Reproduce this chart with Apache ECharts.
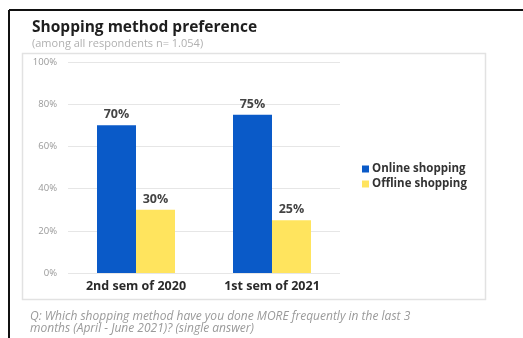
<!DOCTYPE html>
<html>
<head>
<meta charset="utf-8">
<script src="https://cdn.jsdelivr.net/npm/echarts@6/dist/echarts.min.js"></script>
<style>
  html, body {margin: 0; padding: 0; background: #fff;}
  #chart {width: 523px; height: 338px;}
</style>
</head>
<body>
<div id="chart"></div>
<script>
const categories = ['2nd sem of 2020', '1st sem of 2021'];
const online = [70, 75];
const offline = [30, 25];
const yTicks = [0, 20, 40, 60, 80, 100];

const chart = echarts.init(document.getElementById('chart'));
const font = '"Open Sans", "Noto Sans", sans-serif';

chart.setOption({
  animation: false,
  textStyle: {fontFamily: font},
  title: {
    text: 'Shopping method preference',
    subtext: '(among all respondents n= 1.054)',
    left: 27,
    top: 15,
    itemGap: 2,
    textStyle: {fontSize: 15.5, fontWeight: 'bold', color: '#1e1e1e', fontFamily: font},
    subtextStyle: {fontSize: 11, color: '#b0b0b0', fontFamily: font}
  },
  legend: {
    orient: 'vertical',
    left: 357,
    top: 158,
    itemWidth: 7,
    itemHeight: 7,
    itemGap: 3,
    icon: 'rect',
    textStyle: {fontSize: 11.5, fontWeight: 'bold', color: '#333', fontFamily: font, padding: [0, 0, 0, -2]},
    data: ['Online shopping', 'Offline shopping']
  },
  grid: {left: 68, right: 183, top: 62, bottom: 65},
  xAxis: {
    type: 'category',
    data: categories,
    axisLine: {show: false},
    axisTick: {show: false},
    axisLabel: {fontSize: 12.5, fontWeight: 'bold', color: '#2a2a2a', margin: 7, fontFamily: font}
  },
  yAxis: {
    type: 'value',
    min: yTicks[0],
    max: yTicks[yTicks.length - 1],
    interval: 20,
    axisLine: {show: false},
    axisTick: {show: false},
    axisLabel: {fontSize: 9.5, color: '#999', margin: 11, formatter: '{value}%'},
    splitLine: {lineStyle: {color: '#e6e6e6', width: 1}}
  },
  series: [
    {
      name: 'Online shopping',
      type: 'bar',
      data: online,
      barWidth: 39,
      barGap: '0%',
      itemStyle: {color: '#0a5ac8'},
      label: {show: true, position: 'top', distance: 4, formatter: '{c}%', fontSize: 12.5, fontWeight: 'bold', color: '#444'}
    },
    {
      name: 'Offline shopping',
      type: 'bar',
      data: offline,
      barWidth: 39,
      itemStyle: {color: '#ffe45e'},
      label: {show: true, position: 'top', distance: 4, formatter: '{c}%', fontSize: 12.5, fontWeight: 'bold', color: '#444'}
    }
  ],
  graphic: [
    {type: 'line', shape: {x1: 9, y1: 10, x2: 523, y2: 10}, style: {stroke: '#111', lineWidth: 2}},
    {type: 'line', shape: {x1: 9, y1: 10, x2: 9, y2: 338}, style: {stroke: '#111', lineWidth: 2}},
    {type: 'rect', shape: {x: 22.5, y: 53.5, width: 463, height: 246}, style: {fill: 'none', stroke: '#e2e2e2', lineWidth: 1.5}, z: -1},
    {
      type: 'text', left: 30, top: 310,
      style: {
        text: 'Q: Which shopping method have you done MORE frequently in the last 3\nmonths (April - June 2021)? (single answer)',
        font: 'italic 12px ' + font,
        fill: '#9a9a9a',
        lineHeight: 12.5
      }
    }
  ]
});
</script>
</body>
</html>
